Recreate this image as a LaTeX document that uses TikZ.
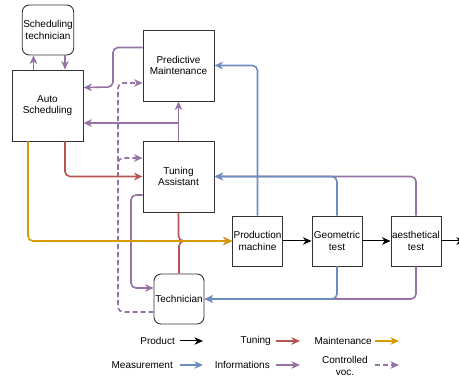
\documentclass[tikz,border=0pt]{standalone}
\usepackage{fontspec}
\setmainfont{Liberation Sans}
\usetikzlibrary{arrows.meta}

\definecolor{infopurple}{HTML}{9673A6}
\definecolor{measblue}{HTML}{6C8EBF}
\definecolor{tunered}{HTML}{B85450}
\definecolor{maintorange}{HTML}{D79B00}

\begin{document}
\begin{tikzpicture}[x=1pt, y=-1pt,
  font=\fontsize{10}{11.5}\selectfont,
  box/.style={draw=black!80, line width=0.9pt, align=center, inner sep=1pt,
    minimum width=71pt, minimum height=71pt},
  smallbox/.style={box, minimum width=50pt, minimum height=50pt},
  roundbox/.style={smallbox, rounded corners=7pt},
  conn/.style={line width=1.6pt, rounded corners=5pt,
    -{Stealth[length=8.5pt, width=7.5pt, inset=2.5pt]}},
  product/.style={conn, line width=1pt, black},
  tuning/.style={conn, tunered},
  maintenance/.style={conn, maintorange},
  measure/.style={conn, measblue},
  information/.style={conn, infopurple},
  controlled/.style={information, dash pattern=on 5pt off 3pt},
  legend/.style={inner sep=0pt, align=center}
]
\useasboundingbox (0,0) rectangle (459,377);

% Les blocs
\node[roundbox] (schedtech) at (48,30) {Scheduling\\technician};
\node[box] (autosched) at (47.5,105.5) {Auto\\Scheduling};
\node[box] (predmaint) at (178.5,65.5) {Predictive\\Maintenance};
\node[box] (tuningas) at (178.5,176.5) {Tuning\\Assistant};
\node[roundbox] (techn) at (179,299) {Technician};
\node[smallbox] (prodmach) at (257.5,241) {Production\\machine};
\node[smallbox] (geomtest) at (337,241) {Geometric\\test};
\node[smallbox] (aesttest) at (416,241) {aesthetical\\test};
\coordinate (out) at (465,241);

% Auto Scheduling <-> Scheduling technician
\draw[information] ([xshift=-14pt]autosched.north) -- ([xshift=-14pt]autosched.north |- schedtech.south);
\draw[information] ([xshift=17pt]schedtech.south) -- ([xshift=17pt]schedtech.south |- autosched.north);

% Predictive Maintenance -> Auto Scheduling
\draw[information] ([yshift=18pt]predmaint.west) -| (113,87) -- ([yshift=18pt]autosched.east);

% Tuning Assistant -> Predictive Maintenance / Auto Scheduling
\draw[information] (tuningas.north) -- (predmaint.south);
\draw[information] (tuningas.north |- 0,123) -- ([yshift=-17.5pt]autosched.east);

% Technician -> voc. controle
\draw[controlled] ([yshift=-13pt]techn.west) -| (118,83) -- ([yshift=-17.5pt]predmaint.west);
\draw[controlled] (118,170) |- ([yshift=18.5pt]tuningas.west);

% Tuning Assistant -> Technician
\draw[information] ([yshift=-18.5pt]tuningas.west) -| (131,288) -- ([yshift=11pt]techn.west);

% Reglages
\draw[tuning] ([xshift=17.5pt]autosched.south) |- (tuningas.west);
\draw[tuning] (tuningas.south) |- (prodmach.west);
\draw[tuning] (techn.north) |- (prodmach.west);

% Maintenance
\draw[maintenance] ([xshift=-19.5pt]autosched.south) |- (prodmach.west);

% Mesures et informations
\draw[measure] (prodmach.north) |- (predmaint.east);
\draw[information] (aesttest.north) |- (tuningas.east);
\draw[information] (aesttest.south) |- (techn.east);
\draw[measure] (geomtest.north) |- (tuningas.east);
\draw[measure] (geomtest.south) |- (techn.east);

% Produit
\draw[product] (prodmach) -- (geomtest);
\draw[product] (geomtest) -- (aesttest);
\draw[product] (aesttest) -- (out);

% Legende
\node[legend, anchor=east] (lgprod) at (175,341) {Product};
\node[legend, anchor=east] (lgtune) at (271,341) {Tuning};
\node[legend, anchor=east] (lgmaint) at (372,341) {Maintenance};
\node[legend, anchor=east] (lgmeas) at (173,365) {Measurement};
\node[legend, anchor=east] (lginfo) at (270,365) {Informations};
\node[legend] (lgctrl) at (345,366) {Controlled\\voc.};

\draw[product] ([xshift=5pt]lgprod.east) -- ++(23,0);
\draw[tuning] ([xshift=5pt]lgtune.east) -- ++(24,0);
\draw[maintenance] ([xshift=3pt]lgmaint.east) -- ++(24,0);
\draw[measure] ([xshift=7pt]lgmeas.east) -- ++(23,0);
\draw[information] ([xshift=6pt]lginfo.east) -- ++(24,0);
\draw[controlled] (375,365) -- ++(24,0);

\end{tikzpicture}
\end{document}
